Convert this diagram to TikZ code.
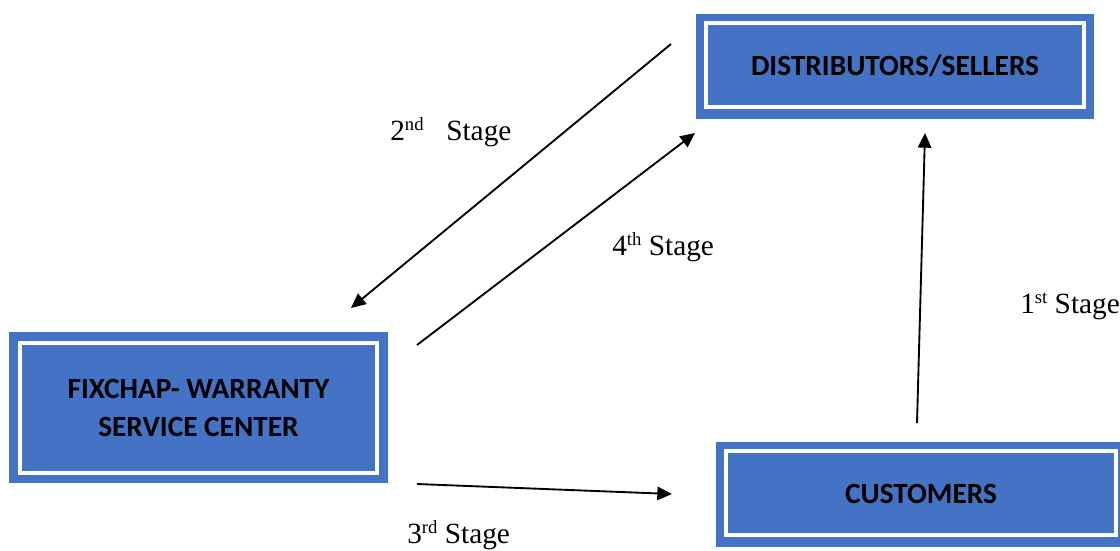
\documentclass[tikz,border=0pt]{standalone}
\usepackage{fontspec}
\setmainfont{Liberation Serif}
\newfontfamily\boxfont{Carlito}
\usetikzlibrary{arrows.meta}
\definecolor{boxblue}{HTML}{4472C4}
\newcommand\supx[1]{\raisebox{7.5pt}{\fontsize{14}{14}\selectfont #1}}
\tikzset{
  bluebox/.style={fill=boxblue, draw=none, inner sep=0pt, align=center,
    font=\boxfont\bfseries\fontsize{22}{28.5}\selectfont},
  whiteframe/.style={draw=white, line width=3pt},
  conn/.style={line width=1.4pt, -{Triangle[length=11pt,width=10pt]}},
  stagelabel/.style={anchor=base west, inner sep=0pt, font=\fontsize{22}{26}\selectfont}
}
\begin{document}
\begin{tikzpicture}[x=0.75pt,y=-0.75pt]
\useasboundingbox (0,0) rectangle (1120,550);
% boxes
\node[bluebox, minimum width=298.5pt, minimum height=78.75pt] (dist) at (895,66) {DISTRIBUTORS/SELLERS};
\draw[whiteframe] ([shift={(10,10)}]dist.north west) rectangle ([shift={(-10,-12)}]dist.south east);
\node[bluebox, minimum width=284.25pt, minimum height=113.25pt] (fix) at (198.5,407.5) {FIXCHAP- WARRANTY\\SERVICE CENTER};
\draw[whiteframe] ([shift={(11,11)}]fix.north west) rectangle ([shift={(-11,-10.5)}]fix.south east);
\node[bluebox, minimum width=307.5pt, minimum height=78.75pt] (cust) at (921,494) {CUSTOMERS};
\draw[whiteframe] ([shift={(10.5,10)}]cust.north west) rectangle ([shift={(-10.5,-12)}]cust.south east);
% connector endpoints
\coordinate (s2a) at (671,44);
\coordinate (s2b) at (351,308);
\coordinate (s4a) at (417,345);
\coordinate (s4b) at (695,133);
\coordinate (s1a) at (917,423);
\coordinate (s1b) at (925,133);
\coordinate (s3a) at (417,484);
\coordinate (s3b) at (672,494);
\draw[conn] (s2a) -- (s2b);
\draw[conn] (s4a) -- (s4b);
\draw[conn] (s1a) -- (s1b);
\draw[conn] (s3a) -- (s3b);
% labels
\node[stagelabel] (l2) at (390,140) {2\supx{nd}\hspace{17pt}Stage};
\node[stagelabel] (l4) at (612,255) {4\supx{th} Stage};
\node[stagelabel] (l1) at (1020,313) {1\supx{st} Stage};
\node[stagelabel] (l3) at (407,543) {3\supx{rd} Stage};
\end{tikzpicture}
\end{document}
